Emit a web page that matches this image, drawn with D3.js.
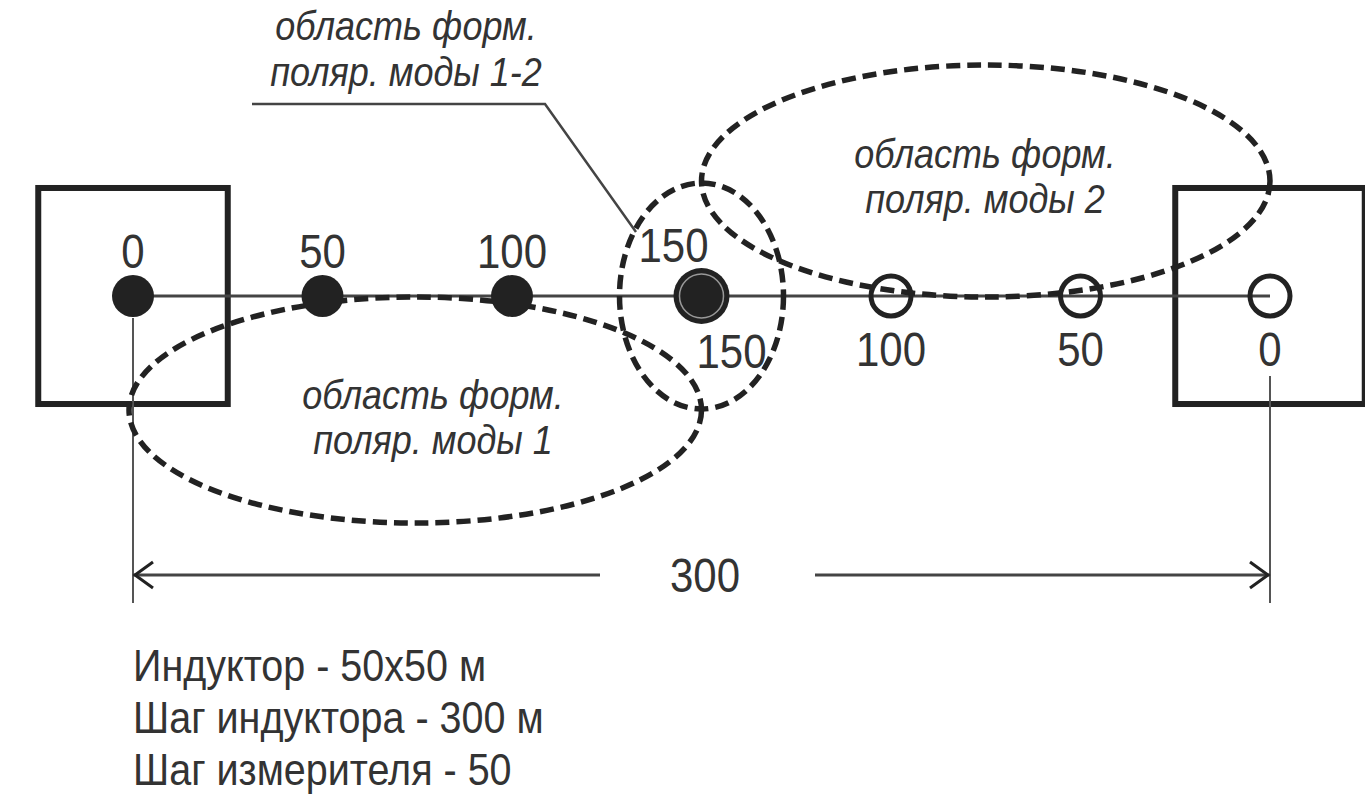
<!DOCTYPE html>
<html><head><meta charset="utf-8">
<script src="https://cdn.jsdelivr.net/npm/d3@7"></script>
<style>html,body{margin:0;padding:0;background:#fff;}svg{display:block;}</style>
</head><body>
<svg id="c" width="1365" height="803"></svg>
<script>
// ---- data ----
const profileLength = 300;                 // м, шаг индуктора
const inductors = [0, 300];                // положения индукторов
const inductorSize = 50;                   // м
const receiversMode1 = [0, 50, 100, 150];  // от левого индуктора (закрашенные)
const receiversMode2 = [0, 50, 100];       // от правого индуктора (пустые)
const overlapStation = 150;
const regions = [
  {name: "mode1", from: 0, to: 150, lines: ["область форм.", "поляр. моды 1"]},
  {name: "mode2", from: 150, to: 300, lines: ["область форм.", "поляр. моды 2"]}
];
const overlapLabel = ["область форм.", "поляр. моды 1-2"];
const dimensionLabel = "300";
const notes = ["Индуктор - 50x50 м", "Шаг индуктора - 300 м", "Шаг измерителя - 50"];

// ---- drawing ----
const svg = d3.select("#c");
const x = d3.scaleLinear().domain([0, profileLength]).range([133, 1270]);
const yLine = 296;
const ySq = 1.14; // vertical stretch of the original figure
const ink = "#222", txt = "#333";
const FONT = "'Liberation Sans', Arial, sans-serif";

function label(g, str, px, py, size, opts = {}) {
  return g.append("text")
    .attr("transform", `translate(${px},${py}) scale(1,${ySq})`)
    .attr("text-anchor", opts.anchor || "middle")
    .attr("font-family", FONT)
    .attr("font-size", size)
    .attr("font-style", opts.italic ? "italic" : "normal")
    .attr("fill", txt)
    .text(str);
}

// inductor squares
const half = (x(inductorSize) - x(0)) / 2;
svg.selectAll("rect.ind").data(inductors).join("rect")
  .attr("x", d => x(d) - half).attr("y", yLine - half * ySq)
  .attr("width", 2 * half).attr("height", 2 * half * ySq)
  .attr("fill", "none").attr("stroke", ink).attr("stroke-width", 6);

// profile line
svg.append("line").attr("x1", x(0)).attr("x2", x(profileLength))
  .attr("y1", yLine).attr("y2", yLine).attr("stroke", "#444").attr("stroke-width", 3);

// dimension verticals
svg.append("line").attr("x1", x(0)).attr("x2", x(0)).attr("y1", 318).attr("y2", 603)
  .attr("stroke", "#555").attr("stroke-width", 2);
svg.append("line").attr("x1", x(300)).attr("x2", x(300)).attr("y1", 376).attr("y2", 603)
  .attr("stroke", "#555").attr("stroke-width", 2);

// dashed regions
const dash = {stroke: ink, "stroke-width": 5.5, "stroke-dasharray": "14 7", fill: "none"};
function ell(cx, cy, rx, ry) {
  const e = svg.append("ellipse").attr("cx", cx).attr("cy", cy).attr("rx", rx).attr("ry", ry);
  Object.entries(dash).forEach(([k, v]) => e.attr(k, v));
  return e;
}
const r1 = regions[0], r2 = regions[1];
ell((x(r1.from) + x(r1.to)) / 2 - 2, 410, (x(r1.to) - x(r1.from)) / 2 + 2, 113);
ell((x(r2.from) + x(r2.to)) / 2, 181, (x(r2.to) - x(r2.from)) / 2, 116);
ell(x(overlapStation), yLine, 82, 113);

// leader line
svg.append("polyline")
  .attr("points", [[252, 104], [545, 104], [636, 232]].map(p => p.join(",")).join(" "))
  .attr("fill", "none").attr("stroke", "#444").attr("stroke-width", 2.5);

// receivers mode 1 (filled)
svg.selectAll("circle.r1").data(receiversMode1.filter(d => d !== overlapStation)).join("circle")
  .attr("cx", d => x(d)).attr("cy", yLine).attr("r", 21).attr("fill", ink);
// overlap station
svg.append("circle").attr("cx", x(overlapStation)).attr("cy", yLine).attr("r", 28).attr("fill", ink);
svg.append("circle").attr("cx", x(overlapStation)).attr("cy", yLine).attr("r", 22)
  .attr("fill", "none").attr("stroke", "#999").attr("stroke-width", 1.5);
// receivers mode 2 (open)
svg.selectAll("circle.r2").data(receiversMode2).join("circle")
  .attr("cx", d => x(profileLength - d)).attr("cy", yLine).attr("r", 20)
  .attr("fill", "none").attr("stroke", ink).attr("stroke-width", 5);

// station labels
receiversMode1.forEach(d => {
  const px = d === overlapStation ? x(d) - 28 : x(d);
  label(svg, d, px, d === overlapStation ? 262 : 268, 42);
});
label(svg, overlapStation, x(profileLength - overlapStation) + 30, 368, 42);
receiversMode2.forEach(d => label(svg, d, x(profileLength - d), 366, 42));

// region labels
label(svg, r1.lines[0], 433, 409, 36, {italic: true});
label(svg, r1.lines[1], 433, 454, 36, {italic: true});
label(svg, r2.lines[0], 985, 168, 36, {italic: true});
label(svg, r2.lines[1], 985, 213, 36, {italic: true});
label(svg, overlapLabel[0], 406, 40, 36, {italic: true});
label(svg, overlapLabel[1], 406, 86, 36, {italic: true});

// dimension arrow
const yA = 575;
svg.append("line").attr("x1", x(0)).attr("x2", 600).attr("y1", yA).attr("y2", yA)
  .attr("stroke", "#444").attr("stroke-width", 3);
svg.append("line").attr("x1", 815).attr("x2", x(profileLength)).attr("y1", yA).attr("y2", yA)
  .attr("stroke", "#444").attr("stroke-width", 3);
svg.append("path").attr("d", `M${x(0) + 20},${yA - 13} L${x(0) + 2},${yA} L${x(0) + 20},${yA + 13}`)
  .attr("fill", "none").attr("stroke", ink).attr("stroke-width", 3);
svg.append("path").attr("d", `M${x(300) - 20},${yA - 13} L${x(300) - 2},${yA} L${x(300) - 20},${yA + 13}`)
  .attr("fill", "none").attr("stroke", ink).attr("stroke-width", 3);
label(svg, dimensionLabel, 705, 592, 42);

// notes
notes.forEach((n, i) => label(svg, n, 133, 681 + i * 52, 39.5, {anchor: "start"}));
</script>
</body></html>
